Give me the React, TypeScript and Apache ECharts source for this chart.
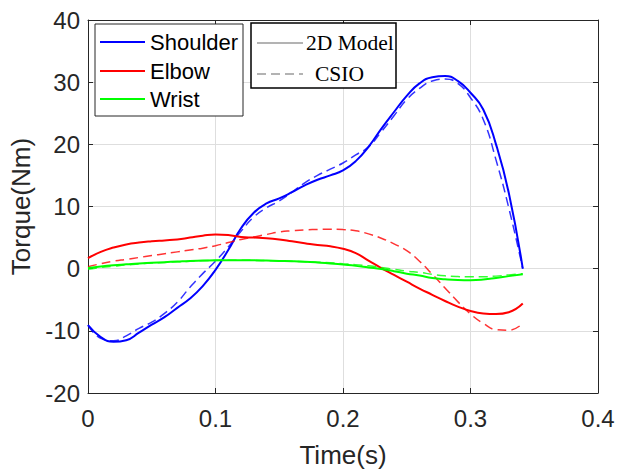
import React, { useEffect, useRef } from "react";
import * as echarts from "echarts";

const TIME = [0, 0.01, 0.02, 0.03, 0.04, 0.05, 0.06, 0.07, 0.08, 0.09, 0.1, 0.11, 0.12, 0.13, 0.14, 0.15, 0.16, 0.17, 0.18, 0.19, 0.2, 0.21, 0.22, 0.23, 0.24, 0.25, 0.26, 0.27, 0.28, 0.29, 0.3, 0.31, 0.32, 0.33, 0.341];

const shoulder2D = [-9.1, -11.0, -11.75, -11.5, -10.3, -9.0, -7.8, -6.3, -4.8, -2.8, -0.2, 3.0, 6.5, 9.0, 10.5, 11.3, 12.3, 13.4, 14.3, 15.0, 15.8, 17.3, 19.6, 22.5, 25.2, 27.8, 29.8, 30.8, 31.0, 30.2, 28.3, 25.6, 20.0, 12.2, 0];
const shoulderCSIO = [-9.1, -11.2, -11.6, -10.8, -9.6, -8.6, -7.2, -5.4, -3.0, -0.8, 1.2, 3.5, 6.0, 8.3, 9.8, 10.9, 12.3, 13.8, 15.0, 16.0, 17.0, 18.3, 19.6, 22.0, 24.6, 27.2, 29.0, 30.2, 30.5, 29.8, 27.5, 24.0, 17.5, 9.8, 0];
const elbow2D = [1.7, 2.7, 3.4, 3.9, 4.2, 4.4, 4.55, 4.7, 5.0, 5.3, 5.5, 5.4, 5.1, 5.0, 4.9, 4.7, 4.4, 4.1, 3.8, 3.6, 3.2, 2.5, 1.3, 0.1, -1.0, -2.1, -3.2, -4.2, -5.2, -6.1, -6.8, -7.2, -7.3, -7.0, -5.6];
const elbowCSIO = [0.3, 0.8, 1.2, 1.5, 1.8, 2.1, 2.4, 2.7, 3.0, 3.3, 3.7, 4.2, 4.7, 5.1, 5.5, 5.9, 6.1, 6.25, 6.3, 6.35, 6.3, 6.1, 5.6, 4.9, 4.0, 2.9, 1.2, -0.9, -3.1, -5.3, -7.3, -8.8, -9.8, -9.9, -8.8];
const wrist2D = [0.1, 0.35, 0.55, 0.7, 0.85, 0.95, 1.05, 1.15, 1.25, 1.3, 1.35, 1.37, 1.37, 1.35, 1.3, 1.25, 1.2, 1.12, 1.0, 0.85, 0.65, 0.45, 0.2, -0.05, -0.4, -0.8, -1.1, -1.5, -1.7, -1.82, -1.85, -1.75, -1.5, -1.2, -0.9];
const wristCSIO = [-0.1, 0.2, 0.4, 0.6, 0.75, 0.9, 1.0, 1.1, 1.2, 1.28, 1.33, 1.35, 1.35, 1.33, 1.3, 1.25, 1.2, 1.12, 1.05, 0.95, 0.8, 0.65, 0.45, 0.2, -0.1, -0.4, -0.6, -0.9, -1.15, -1.28, -1.32, -1.3, -1.2, -1.0, -0.8];

const X_TICKS = [0, 0.1, 0.2, 0.3, 0.4];
const Y_TICKS = [-20, -10, 0, 10, 20, 30, 40];
const JOINTS = ["Shoulder", "Elbow", "Wrist"];
const STYLES = ["2D Model", "CSIO"];

const COLORS = ["#0000ff", "#ff0000", "#00ff00"];
const AXIS_COLOR = "#262626";
const SANS = "'Liberation Sans', Arial, sans-serif";
const SERIF = "'Liberation Serif', 'Times New Roman', serif";

function pairs(vals: number[]) {
  return TIME.map((t, i) => [t, vals[i]]);
}

export default function App() {
  const ref = useRef<HTMLDivElement>(null);
  useEffect(() => {
    if (!ref.current) return;
    const chart = echarts.init(ref.current, null, { renderer: "svg" });
    const solid = [shoulder2D, elbow2D, wrist2D];
    const dashed = [shoulderCSIO, elbowCSIO, wristCSIO];
    const series: any[] = [];
    for (let i = 0; i < 3; i++) {
      series.push({
        type: "line",
        name: JOINTS[i] + " " + STYLES[0],
        data: pairs(solid[i]),
        smooth: true,
        showSymbol: false,
        lineStyle: { color: COLORS[i], width: 2 },
        z: 3,
      });
      series.push({
        type: "line",
        name: JOINTS[i] + " " + STYLES[1],
        data: pairs(dashed[i]),
        smooth: true,
        showSymbol: false,
        lineStyle: { color: COLORS[i], width: 1.5, type: [9, 5], opacity: 0.8 },
        z: 3,
      });
    }
    const xMin = X_TICKS[0];
    const xMax = X_TICKS[X_TICKS.length - 1];
    const yMin = Y_TICKS[0];
    const yMax = Y_TICKS[Y_TICKS.length - 1];
    const xInt = X_TICKS[1] - X_TICKS[0];
    const yInt = Y_TICKS[1] - Y_TICKS[0];
    const tick = { show: true, inside: true, length: 5, lineStyle: { color: AXIS_COLOR, width: 1 } };
    const line = { show: true, onZero: false, lineStyle: { color: AXIS_COLOR, width: 1 } };

    const legendRows = [42, 71, 99];
    const graphic: any[] = [
      { type: "rect", shape: { x: 95, y: 24, width: 148, height: 92 }, style: { fill: "#fff", stroke: AXIS_COLOR, lineWidth: 1 }, z: 10 },
      ...JOINTS.flatMap((j, i) => [
        { type: "line", shape: { x1: 100, y1: legendRows[i], x2: 145, y2: legendRows[i] }, style: { stroke: COLORS[i], lineWidth: 2 }, z: 11 },
        { type: "text", x: 150, y: legendRows[i], style: { text: j, font: `22px ${SANS}`, fill: "#000", verticalAlign: "middle", align: "left" }, z: 11 },
      ]),
      { type: "rect", shape: { x: 251, y: 23, width: 145, height: 65 }, style: { fill: "#fff", stroke: "#000", lineWidth: 1.5 }, z: 10 },
      { type: "line", shape: { x1: 257, y1: 43, x2: 303, y2: 43 }, style: { stroke: "#9a9a9a", lineWidth: 1.5 }, z: 11 },
      { type: "line", shape: { x1: 257, y1: 74, x2: 303, y2: 74 }, style: { stroke: "#9a9a9a", lineWidth: 1.5, lineDash: [9, 5] }, z: 11 },
      { type: "text", x: 306, y: 43, style: { text: STYLES[0], font: `21.5px ${SERIF}`, fill: "#000", verticalAlign: "middle", align: "left" }, z: 11 },
      { type: "text", x: 315, y: 74, style: { text: STYLES[1], font: `21.5px ${SERIF}`, fill: "#000", verticalAlign: "middle", align: "left" }, z: 11 },
    ];

    chart.setOption({
      animation: false,
      backgroundColor: "#fff",
      grid: { left: 88, right: 20, top: 20, bottom: 74.5, containLabel: false },
      xAxis: [
        {
          type: "value", position: "bottom", min: xMin, max: xMax, interval: xInt,
          axisLine: line, axisTick: tick,
          axisLabel: { color: AXIS_COLOR, fontSize: 24, fontFamily: SANS, margin: 13 },
          splitLine: { show: true, lineStyle: { color: "#dedede", width: 1 } },
          name: "Time(s)", nameLocation: "middle", nameGap: 49,
          nameTextStyle: { color: AXIS_COLOR, fontSize: 26, fontFamily: SANS },
        },
        {
          type: "value", position: "top", min: xMin, max: xMax, interval: xInt,
          axisLine: line, axisTick: tick, axisLabel: { show: false }, splitLine: { show: false },
        },
      ],
      yAxis: [
        {
          type: "value", position: "left", min: yMin, max: yMax, interval: yInt,
          axisLine: line, axisTick: tick,
          axisLabel: { color: AXIS_COLOR, fontSize: 24, fontFamily: SANS, margin: 8 },
          splitLine: { show: true, lineStyle: { color: "#dedede", width: 1 } },
          name: "Torque(Nm)", nameLocation: "middle", nameGap: 50,
          nameTextStyle: { color: AXIS_COLOR, fontSize: 26, fontFamily: SANS },
        },
        {
          type: "value", position: "right", min: yMin, max: yMax, interval: yInt,
          axisLine: line, axisTick: tick, axisLabel: { show: false }, splitLine: { show: false },
        },
      ],
      series,
      graphic,
    });
    return () => chart.dispose();
  }, []);
  return <div ref={ref} style={{ position: "fixed", left: 0, top: 0, width: 618, height: 473 }} />;
}
